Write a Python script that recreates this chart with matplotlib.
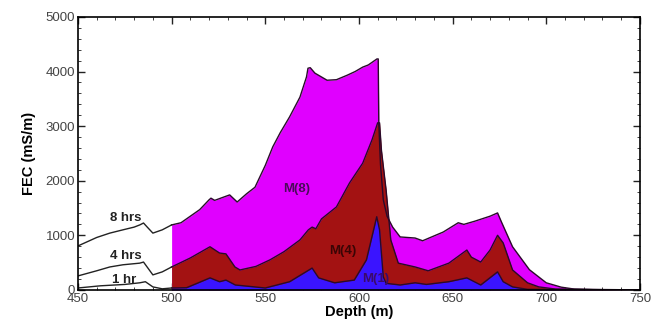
import matplotlib
matplotlib.use("Agg")
import matplotlib.pyplot as plt
import numpy as np
from matplotlib.ticker import MultipleLocator

plt.rcParams['font.family'] = ['Liberation Sans', 'DejaVu Sans']

# 8 hrs / M(8)
depth_8 = [450, 460, 467, 474, 480, 483, 485, 487, 490, 495, 500, 505, 510, 515, 520, 521, 523,
           527, 531, 535, 540, 544.5, 550, 554, 558, 563, 568.5, 572, 572.8, 574, 576.5, 580,
           583, 588, 593.6, 598, 602, 605, 609.6, 610.3, 610.6, 611.5, 613, 615, 618, 622,
           630, 634, 645, 653, 656, 662, 670, 674, 676, 682, 691, 700, 708, 715, 725, 750]
fec_8 = [805, 960, 1040, 1100, 1150, 1190, 1225, 1150, 1040, 1100, 1190, 1230, 1350, 1470, 1650, 1680, 1640,
         1690, 1740, 1610, 1760, 1880, 2280, 2620, 2880, 3170, 3530, 3900, 4060, 4070, 3970, 3900,
         3840, 3850, 3930, 4000, 4080, 4120, 4230, 4230, 3060, 2300, 1650, 1350, 1150, 970,
         950, 900, 1060, 1230, 1200, 1260, 1350, 1410, 1250, 790, 370, 130, 50, 15, 5, 0]

# 4 hrs / M(4)
depth_4 = [450, 460, 467, 474, 483, 485, 490, 495, 500, 510, 520.5, 525.6, 529, 533.8, 536.5, 545,
           552.5, 560, 568.5, 573, 575, 577, 580, 588, 595, 602, 607, 610, 611, 612, 614.5, 617,
           621, 630, 637, 648, 657.6, 660, 665, 670, 674, 677, 682, 690, 696, 705, 750]
fec_4 = [256, 350, 420, 460, 490, 510, 275, 330, 420, 585, 790, 675, 660, 420, 365, 430,
         550, 700, 915, 1100, 1150, 1120, 1300, 1520, 1960, 2320, 2750, 3060, 3060, 2560, 1830, 915,
         490, 420, 350, 490, 730, 600, 510, 730, 1000, 860, 365, 130, 55, 15, 0]

# 1 hr / M(1)
depth_1 = [450, 462, 475, 483, 486, 490, 495, 500, 508, 520.5, 525.6, 529, 534, 550, 563, 575,
           578.5, 587, 597.5, 604, 609.5, 611, 613, 614.5, 622, 630, 636, 648, 657.6, 665, 674,
           677, 682, 690, 750]
fec_1 = [35, 75, 100, 130, 150, 55, 20, 35, 40, 220, 150, 180, 90, 35, 150, 400,
         220, 130, 180, 550, 1340, 1100, 240, 120, 90, 130, 100, 150, 220, 90, 330,
         150, 55, 10, 0]

series = [("8 hrs", depth_8, fec_8, "#e000ff"),
          ("4 hrs", depth_4, fec_4, "#a31212"),
          ("1 hr", depth_1, fec_1, "#3a14ff")]
start_depth = 500

fig = plt.figure(figsize=(6.55, 3.25), dpi=100)
ax = fig.add_axes([0.119, 0.108, 0.858, 0.840])

for name, d, v, col in series:
    d = np.array(d, dtype=float)
    v = np.array(v, dtype=float)
    m = d >= start_depth
    ax.fill_between(d[m], 0, v[m], color=col, linewidth=0, zorder=2)
    ax.plot(d[m], v[m], color="#2a0a2a", lw=1.0, zorder=3)
    ax.plot(d[d <= start_depth], v[d <= start_depth], color="#222222", lw=1.0, zorder=3)

# curve labels
lab_font = dict(fontsize=9.5, fontweight='bold')
ax.text(475.6, 1318, "8 hrs", ha='center', va='center', color='#222222', **lab_font)
ax.text(475.6, 622, "4 hrs", ha='center', va='center', color='#222222', **lab_font)
ax.text(474.8, 183, "1 hr", ha='center', va='center', color='#222222', **lab_font)
ax.text(566.5, 1850, "M(8)", ha='center', va='center', color='#4a0a5a', zorder=4, **lab_font)
ax.text(591.5, 714, "M(4)", ha='center', va='center', color='#3a0505', zorder=4, **lab_font)
ax.text(609, 200, "M(1)", ha='center', va='center', color='#3a0a6a', zorder=4, **lab_font)

ax.set_xlim(450, 750)
ax.set_ylim(0, 5000)
ax.xaxis.set_major_locator(MultipleLocator(50))
ax.xaxis.set_minor_locator(MultipleLocator(10))
ax.yaxis.set_major_locator(MultipleLocator(1000))
ax.yaxis.set_minor_locator(MultipleLocator(200))
ax.tick_params(which='both', direction='in', top=True, right=True, colors='#222222',
               labelcolor='#444444', labelsize=9.5, pad=2)
ax.tick_params(which='major', length=5, width=1.0)
ax.tick_params(which='minor', length=2.5, width=0.6)
for s in ax.spines.values():
    s.set_linewidth(1.2)
    s.set_zorder(5)

ax.set_xlabel("Depth (m)", fontsize=10.5, fontweight='bold', labelpad=0)
ax.set_ylabel("FEC (mS/m)", fontsize=10.5, fontweight='bold', labelpad=7)

fig.savefig("out.png", dpi=100)
